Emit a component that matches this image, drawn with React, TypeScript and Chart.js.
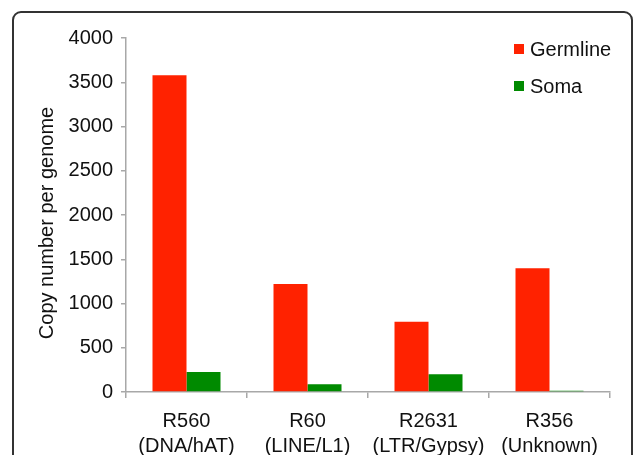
import React, { useEffect, useRef } from "react";
import { Chart, registerables } from "chart.js";

Chart.register(...registerables);

const categories: string[][] = [
  ["R560", "(DNA/hAT)"],
  ["R60", "(LINE/L1)"],
  ["R2631", "(LTR/Gypsy)"],
  ["R356", "(Unknown)"],
];
const germline: number[] = [3580, 1220, 795, 1398];
const soma: number[] = [226, 88, 200, 15];
const seriesNames: string[] = ["Germline", "Soma"];
const seriesColors: string[] = ["#ff2200", "#008a00"];
const yTitle = "Copy number per genome";

const FONT = "'Liberation Sans', Arial, Helvetica, sans-serif";

const legendPlugin = {
  id: "customLegend",
  afterDraw(chart: any) {
    const { ctx, chartArea } = chart;
    ctx.save();
    ctx.font = `20px ${FONT}`;
    ctx.textBaseline = "middle";
    ctx.textAlign = "left";
    chart.data.datasets.forEach((ds: any, i: number) => {
      const x = chartArea.right - 96;
      const y = chartArea.top + 11 + i * 37;
      ctx.fillStyle = ds.backgroundColor;
      ctx.fillRect(x, y - 5, 10, 10);
      ctx.fillStyle = "#111";
      ctx.fillText(ds.label, x + 16, y + 1);
    });
    // y-axis title, slightly below the axis centre as in the reference
    const cy = (chartArea.top + chartArea.bottom) / 2 + 8;
    ctx.translate(47, cy);
    ctx.rotate(-Math.PI / 2);
    ctx.textAlign = "center";
    ctx.fillStyle = "#111";
    ctx.fillText(yTitle, 0, 0);
    ctx.restore();
  },
};

export default function App() {
  const ref = useRef<HTMLCanvasElement | null>(null);
  useEffect(() => {
    if (!ref.current) return;
    const chart = new Chart(ref.current, {
      type: "bar",
      data: {
        labels: categories,
        datasets: [
          { label: seriesNames[0], data: germline, backgroundColor: seriesColors[0] },
          { label: seriesNames[1], data: soma, backgroundColor: seriesColors[1] },
        ],
      },
      options: {
        responsive: false,
        animation: false,
        layout: { padding: { left: 0, right: 25, top: 38, bottom: 0 } },
        datasets: { bar: { categoryPercentage: 0.562, barPercentage: 1 } },
        plugins: { legend: { display: false }, tooltip: { enabled: false } },
        scales: {
          x: {
            afterFit: (s: any) => { s.height = 63; },
            grid: { offset: true, drawOnChartArea: false, drawTicks: true, tickLength: 6, color: "#a8a8a8", lineWidth: 1.5 },
            border: { color: "#a8a8a8", width: 1.5 },
            ticks: { color: "#111", font: { family: FONT, size: 20, lineHeight: 1.25 }, padding: 11, maxRotation: 0 },
          },
          y: {
            min: 0,
            max: 4000,
            afterFit: (s: any) => { s.width = 126; },
            grid: { drawOnChartArea: false, drawTicks: true, tickLength: 5, color: "#a8a8a8", lineWidth: 1.5 },
            border: { color: "#a8a8a8", width: 1.5 },
            ticks: { stepSize: 500, color: "#111", font: { family: FONT, size: 20 }, padding: 8, callback: (v: any) => String(v) },
            title: { display: false },
          },
        },
      },
      plugins: [legendPlugin],
    });
    return () => chart.destroy();
  }, []);
  return (
    <div style={{ position: "absolute", left: 0, top: 0, width: 635, height: 455, overflow: "hidden", background: "#fff" }}>
      <div style={{ position: "absolute", left: 12, top: 11, width: 621, height: 480, boxSizing: "border-box", border: "2px solid #333", borderRadius: 9 }} />
      <canvas ref={ref} width={635} height={455} style={{ position: "absolute", left: 0, top: 0, display: "block" }} />
    </div>
  );
}
